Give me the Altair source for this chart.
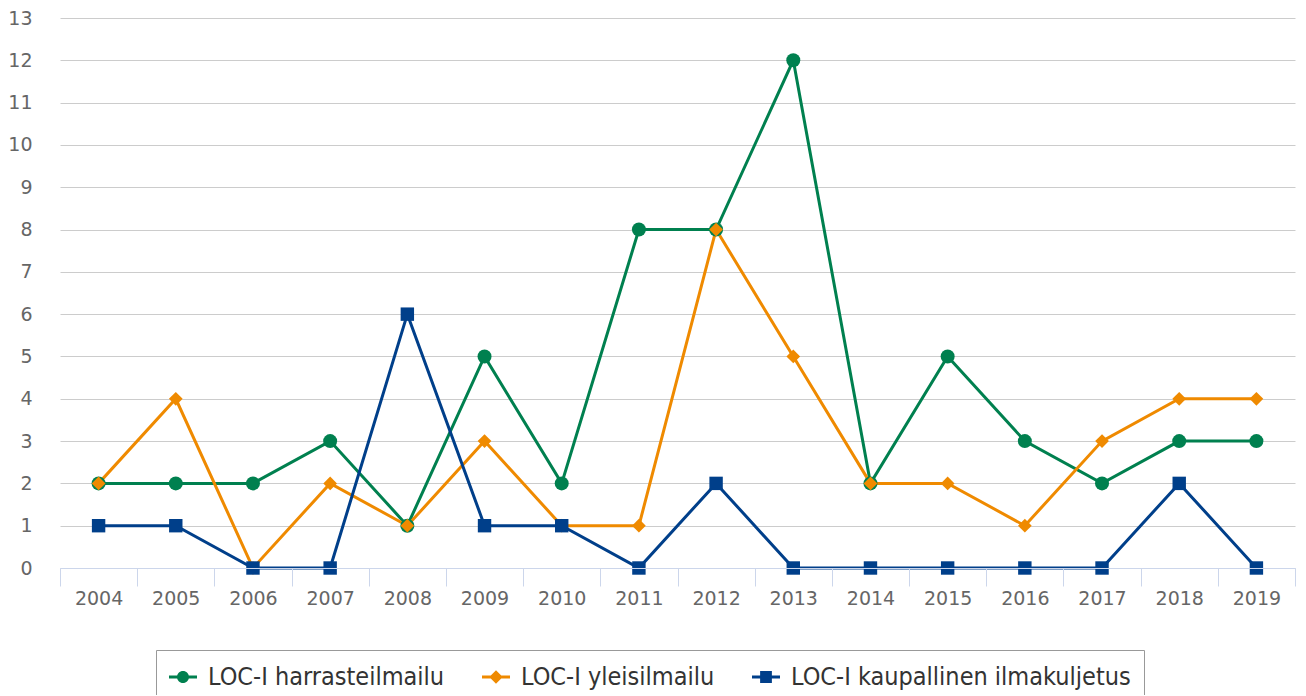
import altair as alt
import pandas as pd

years = [str(y) for y in range(2004, 2020)]
series_names = ["LOC-I harrasteilmailu", "LOC-I yleisilmailu", "LOC-I kaupallinen ilmakuljetus"]
harraste = [2, 2, 2, 3, 1, 5, 2, 8, 8, 12, 2, 5, 3, 2, 3, 3]
yleis = [2, 4, 0, 2, 1, 3, 1, 1, 8, 5, 2, 2, 1, 3, 4, 4]
kaupallinen = [1, 1, 0, 0, 6, 1, 1, 0, 2, 0, 0, 0, 0, 0, 2, 0]
colors = ["#00804f", "#ef8a00", "#003f8a"]
shapes = ["circle", "diamond", "square"]

legend_paths = [
    "M-1,-0.11 H1 V0.11 H-1 Z M-0.43,0 A0.43,0.43 0 1,1 0.43,0 A0.43,0.43 0 1,1 -0.43,0 Z",
    "M-1,-0.11 H1 V0.11 H-1 Z M0,-0.48 L0.48,0 L0,0.48 L-0.48,0 Z",
    "M-1,-0.11 H1 V0.11 H-1 Z M-0.42,-0.42 H0.42 V0.42 H-0.42 Z",
]

rows = []
for name, vals in zip(series_names, [harraste, yleis, kaupallinen]):
    for y, v in zip(years, vals):
        rows.append({"year": y, "series": name, "value": v})
df = pd.DataFrame(rows)

FONT = "DejaVu Sans"
LFONT = "DejaVu Sans Condensed"

x_enc = alt.X(
    "year:O",
    scale=alt.Scale(type="band", paddingInner=0, paddingOuter=0),
    axis=alt.Axis(
        title=None, labelAngle=0, grid=False, tickBand="extent",
        domainColor="#ccd6eb", tickColor="#ccd6eb", tickSize=18,
        labelPadding=3, labelFontSize=19, labelColor="#666666", labelFont=FONT,
        zindex=1,
    ),
)
y_enc = alt.Y(
    "value:Q",
    scale=alt.Scale(domain=[0, 13], nice=False),
    axis=alt.Axis(
        title=None, values=list(range(0, 14)), grid=True, gridColor="#cccccc",
        domain=False, ticks=False, labelPadding=28, labelFontSize=19,
        labelColor="#666666", labelFont=FONT, zindex=0,
    ),
)

color_scale = alt.Scale(domain=series_names, range=colors)

base = alt.Chart(df)

lines = base.mark_line(strokeWidth=3).encode(
    x=x_enc, y=y_enc,
    color=alt.Color("series:N", scale=color_scale, legend=None),
)

points = base.mark_point(filled=True, opacity=1).encode(
    x=x_enc, y=y_enc,
    color=alt.Color("series:N", scale=color_scale, legend=None),
    shape=alt.Shape("series:N", scale=alt.Scale(domain=series_names, range=shapes), legend=None),
    size=alt.Size("series:N", scale=alt.Scale(domain=series_names, range=[196, 180, 256]), legend=None),
)

legend_opts = dict(
    title=None, orient="none", legendX=96, legendY=632, direction="horizontal",
    columnPadding=37, labelOffset=11, symbolSize=784, symbolStrokeWidth=0,
    labelFontSize=25, labelFont=LFONT, labelColor="#333333", labelLimit=600,
    strokeColor="#999999", padding=13, symbolOpacity=1,
)

legend_layer = base.transform_filter("datum.value < 0").mark_point(filled=True, opacity=1).encode(
    x=x_enc, y=y_enc,
    color=alt.Color("series:N", scale=color_scale, legend=alt.Legend(**legend_opts)),
    shape=alt.Shape(
        "series:N", scale=alt.Scale(domain=series_names, range=legend_paths),
        legend=alt.Legend(**legend_opts),
    ),
)

chart = alt.layer(lines, points, legend_layer).resolve_scale(
    color="independent", shape="independent", size="independent"
).properties(
    width=1235, height=550,
    autosize=alt.AutoSizeParams(type="none"),
    padding={"left": 52, "top": 10, "right": 3, "bottom": 127},
).configure_view(stroke=None)

chart.save("out.html", embed_options={"renderer": "svg", "actions": False})
